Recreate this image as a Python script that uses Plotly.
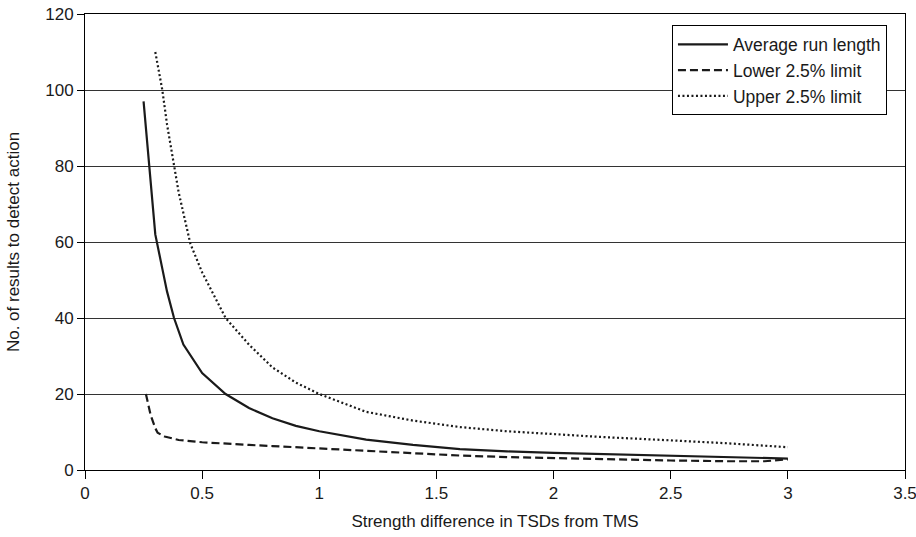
import plotly.graph_objects as go

# ---------------------------------- #
#               DATA                 #
# ---------------------------------- #

avg_x = [0.25, 0.275, 0.3, 0.33, 0.35, 0.38, 0.42, 0.5, 0.6, 0.7, 0.8, 0.9,
         1.0, 1.2, 1.4, 1.6, 1.8, 2.0, 2.2, 2.5, 2.75, 3.0]
avg_y = [97, 80, 62, 53, 47, 40, 33, 25.5, 20, 16.3, 13.6, 11.6,
         10.2, 8.0, 6.6, 5.5, 4.9, 4.5, 4.2, 3.8, 3.4, 3.0]

low_x = [0.26, 0.28, 0.3, 0.31, 0.34, 0.4, 0.5, 0.6, 0.7, 0.8, 0.9, 1.0,
         1.2, 1.4, 1.6, 1.8, 2.0, 2.2, 2.5, 2.75, 2.9, 3.0]
low_y = [20, 14.5, 11, 9.8, 8.8, 7.9, 7.3, 6.9, 6.6, 6.3, 6.0, 5.7,
         5.0, 4.4, 3.8, 3.4, 3.1, 2.8, 2.5, 2.3, 2.3, 2.8]

up_x = [0.3, 0.33, 0.35, 0.38, 0.4, 0.45, 0.5, 0.6, 0.7, 0.8, 0.9, 1.0,
        1.2, 1.4, 1.6, 1.8, 2.0, 2.2, 2.5, 2.75, 3.0]
up_y = [110, 100, 91, 80, 73, 59.5, 52, 40, 33, 27, 23, 20,
        15.3, 13, 11.3, 10.2, 9.4, 8.7, 7.8, 7.0, 6.0]

x_ticks = [0, 0.5, 1, 1.5, 2, 2.5, 3, 3.5]
x_labels = ['0', '0.5', '1', '1.5', '2', '2.5', '3', '3.5']
y_ticks = [0, 20, 40, 60, 80, 100, 120]

SET_FONT = 'Liberation Sans, Arial, sans-serif'
INK = '#1a1a1a'

# ---------------------------------- #
#              FIGURE                #
# ---------------------------------- #

fig = go.Figure()

fig.add_trace(go.Scatter(x=avg_x, y=avg_y, mode='lines',
                         name='Average run length',
                         line=dict(color=INK, width=2.2)))

fig.add_trace(go.Scatter(x=low_x, y=low_y, mode='lines',
                         name='Lower 2.5% limit',
                         line=dict(color=INK, width=2.2, dash='8px,4px')))

fig.add_trace(go.Scatter(x=up_x, y=up_y, mode='lines',
                         name='Upper 2.5% limit',
                         line=dict(color=INK, width=2.2, dash='2px,2.5px')))

fig.update_xaxes(range=[0, 3.5],
                 tickvals=x_ticks, ticktext=x_labels,
                 ticks='outside', ticklen=8, tickcolor='black',
                 ticklabeloverflow='allow',
                 showline=True, linewidth=1, linecolor='black',
                 mirror=True, automargin=False,
                 showgrid=False, zeroline=False,
                 title=dict(text='Strength difference in TSDs from TMS',
                            standoff=12, font=dict(size=17)),
                 tickfont=dict(size=17))

fig.update_yaxes(range=[0, 120],
                 tickvals=y_ticks,
                 ticks='outside', ticklen=7, tickcolor='black',
                 ticklabeloverflow='allow',
                 showline=True, linewidth=1, linecolor='black',
                 mirror=True, automargin=False,
                 showgrid=True, gridcolor='#333333', gridwidth=1,
                 zeroline=False,
                 title=dict(text='No. of results to detect action',
                            standoff=21, font=dict(size=17)),
                 tickfont=dict(size=17))

fig.update_layout(
    width=916, height=537,
    font_family=SET_FONT,
    font_color=INK,
    plot_bgcolor='white',
    paper_bgcolor='white',
    margin=dict(l=85, r=11, t=14, b=67, autoexpand=False),
    legend=dict(x=0.978, y=0.975, xanchor='right', yanchor='top',
                bgcolor='white', bordercolor='black', borderwidth=1,
                font=dict(size=17.5), tracegroupgap=0, itemwidth=50),
)

# browser default body margin would shift the plot by 8px
fig.write_html("out.html", config={'displayModeBar': False},
               post_script="document.body.style.margin='0';")
